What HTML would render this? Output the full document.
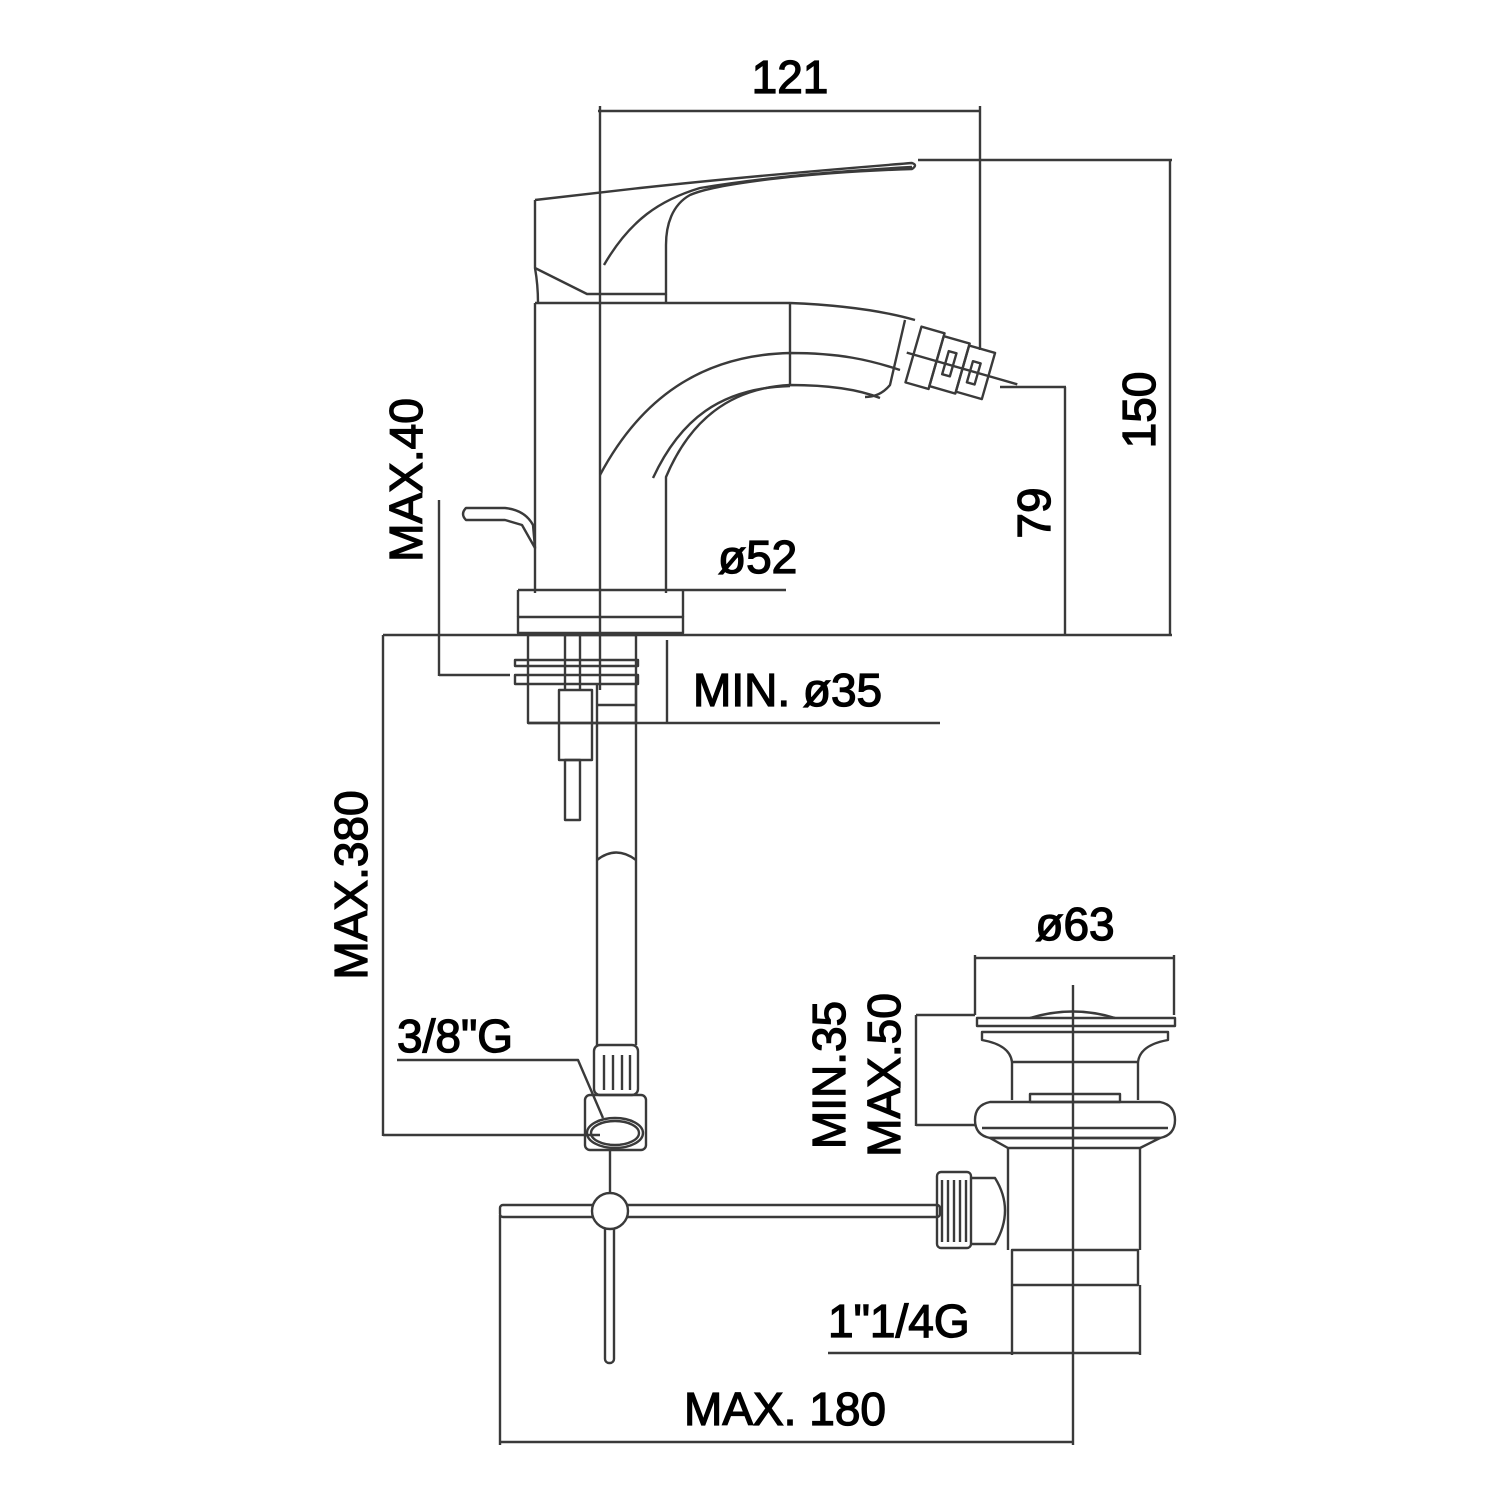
<!DOCTYPE html>
<html><head><meta charset="utf-8"><style>
html,body{margin:0;padding:0;background:#fff;}
svg{display:block}
text{font-family:"Liberation Sans",sans-serif;fill:#000;stroke:#000;stroke-width:1.3;}
</style></head><body>
<svg width="1500" height="1500" viewBox="0 0 1500 1500" xmlns="http://www.w3.org/2000/svg">
<g fill="none" stroke="#3a3a3a" stroke-width="2.4" stroke-linejoin="round">
<line x1="598" y1="111" x2="980" y2="111"/>
<line x1="600" y1="106" x2="600" y2="690"/>
<line x1="980" y1="106" x2="980" y2="350"/>
<line x1="918" y1="160" x2="1172" y2="160"/>
<line x1="1170" y1="160" x2="1170" y2="636"/>
<line x1="1000" y1="387" x2="1066" y2="387"/>
<line x1="1065" y1="387" x2="1065" y2="636"/>
<line x1="383" y1="635" x2="1172" y2="635"/>
<line x1="518" y1="590" x2="786" y2="590"/>
<line x1="439" y1="500" x2="439" y2="676"/>
<line x1="439" y1="675" x2="510" y2="675"/>
<line x1="528" y1="723" x2="940" y2="723"/>
<line x1="667" y1="640" x2="667" y2="723"/>
<line x1="383" y1="635" x2="383" y2="1136"/>
<line x1="383" y1="1135" x2="600" y2="1135"/>
<polyline points="397,1060 578,1060 603,1118"/>
<line x1="975" y1="958" x2="1174" y2="958"/>
<line x1="975" y1="955" x2="975" y2="1015"/>
<line x1="1174" y1="955" x2="1174" y2="1015"/>
<line x1="1073" y1="985" x2="1073" y2="1445"/>
<line x1="916" y1="1015" x2="916" y2="1126"/>
<line x1="916" y1="1015" x2="975" y2="1015"/>
<line x1="916" y1="1125" x2="975" y2="1125"/>
<line x1="828" y1="1353" x2="1140" y2="1353"/>
<line x1="1012" y1="1285" x2="1012" y2="1355"/>
<line x1="1140" y1="1285" x2="1140" y2="1355"/>
<line x1="500" y1="1215" x2="500" y2="1445"/>
<line x1="500" y1="1442" x2="1073" y2="1442"/>

<path d="M535,200 L535,268 L587,294 L666,294 L666,245"/>
<path d="M535,200 L640,188 C760,175 850,168 912,163 Q918,165 912,169 C820,172 720,182 690,195 C672,205 666,225 666,245"/>
<path d="M604,265 C630,220 660,200 700,188 C780,175 860,170 912,167"/>
<path d="M535,268 Q538,285 538,303"/>
<path d="M666,294 L666,303"/>
<path d="M535,303 L535,593"/>
<line x1="535" y1="303" x2="790" y2="303"/>
<path d="M790,303 C840,305 880,310 915,320"/>
<path d="M666,593 L666,477 C690,420 730,388 790,385 C830,385 860,390 880,398"/>
<path d="M600,475 C640,400 700,355 790,353 C840,353 870,360 900,370"/>
<path d="M653,478 C680,420 720,388 790,386"/>
<line x1="790" y1="303" x2="790" y2="386"/>
<path d="M865,397 Q880,397 890,385 L905,320"/>
<g transform="rotate(16 950 365)">
<rect x="912" y="336" width="24" height="58"/>
<rect x="936" y="339" width="27" height="52"/>
<rect x="963" y="341" width="27" height="48"/>
<rect x="945" y="352" width="8" height="24"/>
<rect x="971" y="355" width="8" height="22"/>
<line x1="905" y1="365" x2="1020" y2="365"/>
</g>
<path d="M518,590 L518,617 M683,590 L683,617"/>
<rect x="518" y="617" width="165" height="16"/>
<path d="M466,508 L505,508 Q525,510 533,525 L535,548 L522,525 L505,520 L466,520 Q460,514 466,508 Z"/>
<rect x="528" y="635" width="108" height="88"/>
<rect x="515" y="660" width="123" height="6"/>
<rect x="515" y="675" width="123" height="9"/>
<line x1="565" y1="635" x2="565" y2="690"/>
<line x1="580" y1="635" x2="580" y2="690"/>
<rect x="559" y="690" width="33" height="70"/>
<rect x="565" y="760" width="15" height="60"/>
<line x1="597" y1="685" x2="597" y2="1045"/>
<line x1="636" y1="685" x2="636" y2="1045"/>
<line x1="597" y1="705" x2="636" y2="705"/>
<path d="M597,860 Q616,845 636,860"/>
<rect x="594" y="1045" width="44" height="50" rx="6"/>
<line x1="604" y1="1055" x2="604" y2="1090"/><line x1="613" y1="1055" x2="613" y2="1090"/><line x1="622" y1="1055" x2="622" y2="1090"/><line x1="630" y1="1055" x2="630" y2="1090"/>
<rect x="585" y="1095" width="61" height="55" rx="5"/>
<ellipse cx="615" cy="1133" rx="24" ry="12"/>
<ellipse cx="615" cy="1133" rx="28" ry="15"/>
<line x1="610" y1="1150" x2="610" y2="1195"/>
<rect x="605" y="1225" width="9" height="138" rx="4"/>
<rect x="500" y="1205" width="440" height="12" rx="3"/>
<circle cx="610" cy="1211" r="18" fill="#fff"/>
<rect x="937" y="1172" width="34" height="76" rx="4"/>
<line x1="942" y1="1180" x2="942" y2="1242"/><line x1="948" y1="1180" x2="948" y2="1242"/><line x1="954" y1="1180" x2="954" y2="1242"/><line x1="960" y1="1180" x2="960" y2="1242"/><line x1="966" y1="1180" x2="966" y2="1242"/>
<path d="M971,1178 L995,1178 Q1015,1210 995,1244 L971,1244"/>
<path d="M977,1018 L1175,1018 L1175,1026 L977,1026 Z"/>
<path d="M1030,1018 Q1073,1005 1115,1018"/>
<path d="M982,1032 L1168,1032 L1168,1040 Q1140,1045 1138,1062 L1012,1062 Q1010,1045 982,1040 Z"/>
<line x1="1012" y1="1062" x2="1012" y2="1100"/>
<line x1="1138" y1="1062" x2="1138" y2="1100"/>
<rect x="1030" y="1094" width="90" height="8"/>
<path d="M990,1102 L1160,1102 Q1175,1105 1175,1120 Q1175,1135 1160,1138 L990,1138 Q975,1135 975,1120 Q975,1105 990,1102 Z"/>
<line x1="982" y1="1128" x2="1168" y2="1128"/>
<path d="M990,1138 L1160,1138 L1140,1148 L1008,1148 Z"/>
<line x1="1008" y1="1148" x2="1008" y2="1250"/>
<line x1="1140" y1="1148" x2="1140" y2="1250"/>
<rect x="1012" y="1250" width="126" height="35"/>
</g>
<g font-size="46">
<text x="790" y="93" text-anchor="middle">121</text>
<text x="718" y="573">ø52</text>
<text x="693" y="706">MIN. ø35</text>
<text x="397" y="1052">3/8"G</text>
<text x="1075" y="940" text-anchor="middle">ø63</text>
<text x="828" y="1337">1"1/4G</text>
<text x="785" y="1425" text-anchor="middle">MAX. 180</text>
<text transform="translate(1155,410) rotate(-90)" text-anchor="middle">150</text>
<text transform="translate(1050,513) rotate(-90)" text-anchor="middle">79</text>
<text transform="translate(422,480) rotate(-90)" text-anchor="middle">MAX.40</text>
<text transform="translate(367,885) rotate(-90)" text-anchor="middle">MAX.380</text>
<text transform="translate(845,1075) rotate(-90)" text-anchor="middle">MIN.35</text>
<text transform="translate(900,1075) rotate(-90)" text-anchor="middle">MAX.50</text>
</g>
</svg>
</body></html>
